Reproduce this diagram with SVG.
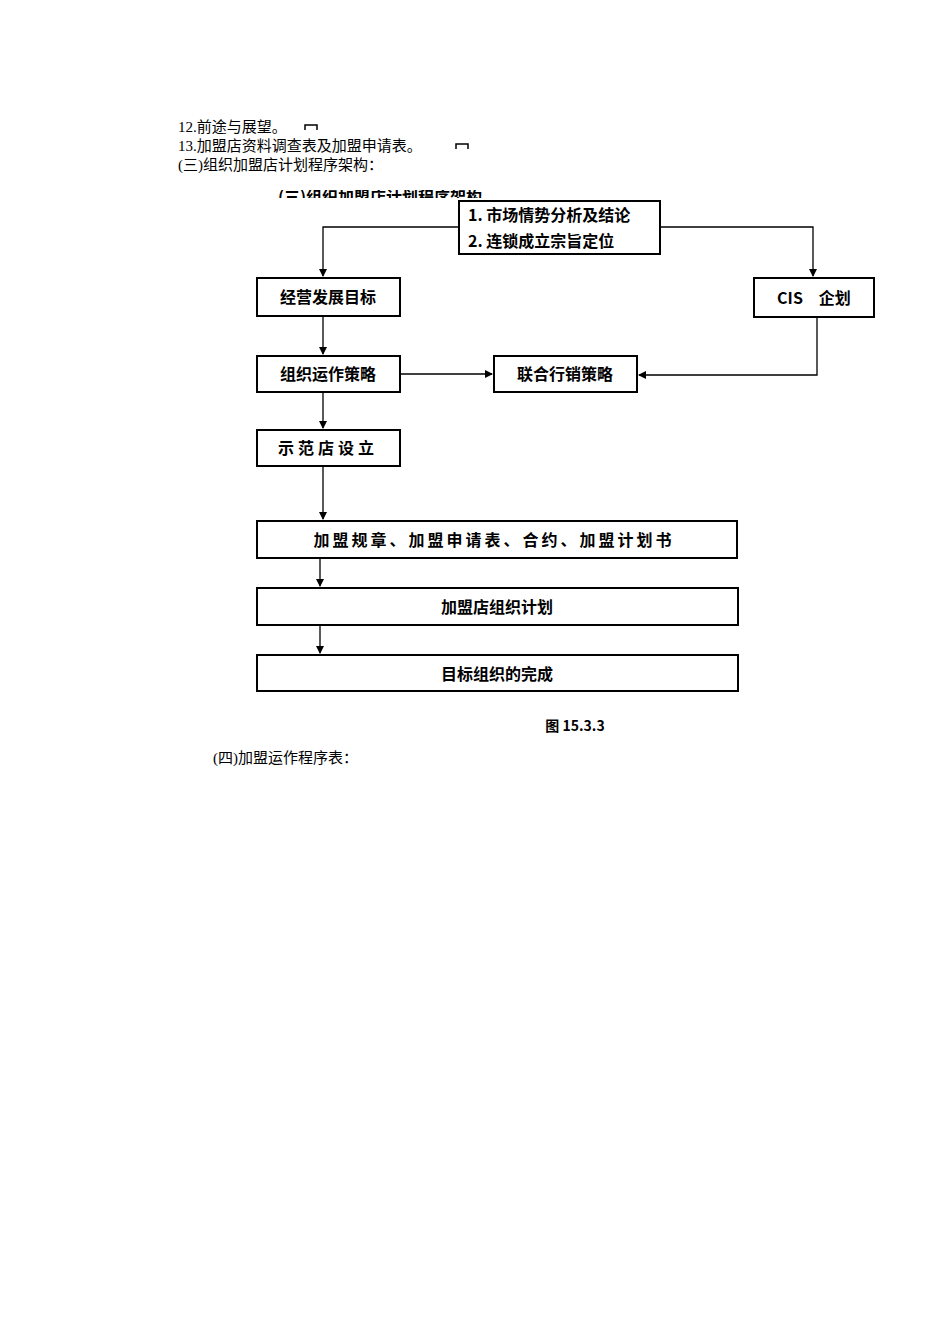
<svg xmlns="http://www.w3.org/2000/svg" width="950" height="1344" viewBox="0 0 950 1344">
<style>
.t{font-family:"Liberation Serif","Noto Sans CJK SC",serif;font-size:15px;fill:#000}
.b{fill:#fff;stroke:#000;stroke-width:2}
.l{font-family:"Noto Sans CJK SC",sans-serif;font-size:16px;font-weight:bold;fill:#000;text-anchor:middle}
.c{fill:none;stroke:#000;stroke-width:1.3}
</style>
<defs>
<marker id="a" markerWidth="8" markerHeight="8" refX="7" refY="4" orient="auto" markerUnits="userSpaceOnUse"><path d="M0,0 L8,4 L0,8 Z" fill="#000"/></marker>
<clipPath id="cp"><rect x="250" y="190" width="260" height="8"/></clipPath>
</defs>
<rect width="950" height="1344" fill="#fff"/>
<text class="t" x="178" y="132">12.前途与展望。</text>
<path d="M305,130 v-5 h12 v5" fill="none" stroke="#000" stroke-width="1.5"/>
<text class="t" x="178" y="151">13.加盟店资料调查表及加盟申请表。</text>
<path d="M456,149 v-5 h12 v5" fill="none" stroke="#000" stroke-width="1.5"/>
<text class="t" x="178" y="170">(三)组织加盟店计划程序架构：</text>
<text class="l" x="380" y="203" clip-path="url(#cp)">(三)组织加盟店计划程序架构</text>
<g id="connectors">
<path class="c" d="M459,227 H323 V276" marker-end="url(#a)"/>
<path class="c" d="M660,227 H813 V276" marker-end="url(#a)"/>
<path class="c" d="M323,316 V354" marker-end="url(#a)"/>
<path class="c" d="M400,374 H492" marker-end="url(#a)"/>
<path class="c" d="M817,317 V375 H639" marker-end="url(#a)"/>
<path class="c" d="M323,392 V428" marker-end="url(#a)"/>
<path class="c" d="M323,466 V519" marker-end="url(#a)"/>
<path class="c" d="M320,558 V586" marker-end="url(#a)"/>
<path class="c" d="M320,625 V653" marker-end="url(#a)"/>
</g>
<g id="n1"><rect class="b" x="459" y="201" width="201" height="53"/>
<text class="l" x="468" y="221" text-anchor="start" style="text-anchor:start">1. 市场情势分析及结论</text>
<text class="l" x="468" y="247" style="text-anchor:start">2. 连锁成立宗旨定位</text></g>
<g id="n2"><rect class="b" x="257" y="278" width="143" height="38"/><text class="l" x="328" y="303">经营发展目标</text></g>
<g id="n3"><rect class="b" x="754" y="278" width="120" height="39"/><text class="l" x="814" y="304">CIS　企划</text></g>
<g id="n4"><rect class="b" x="257" y="356" width="143" height="36"/><text class="l" x="328" y="380">组织运作策略</text></g>
<g id="n5"><rect class="b" x="494" y="356" width="143" height="36"/><text class="l" x="565" y="380">联合行销策略</text></g>
<g id="n6"><rect class="b" x="257" y="430" width="143" height="36"/><text class="l" x="328" y="454" letter-spacing="4">示范店设立</text></g>
<g id="n7"><rect class="b" x="257" y="521" width="480" height="37"/><text class="l" x="494" y="546" letter-spacing="3">加盟规章、加盟申请表、合约、加盟计划书</text></g>
<g id="n8"><rect class="b" x="257" y="588" width="481" height="37"/><text class="l" x="497" y="613">加盟店组织计划</text></g>
<g id="n9"><rect class="b" x="257" y="655" width="481" height="36"/><text class="l" x="497" y="680">目标组织的完成</text></g>
<text class="l" x="575" y="731" style="font-size:14px">图 15.3.3</text>
<text class="t" x="213" y="763">(四)加盟运作程序表：</text>
</svg>
